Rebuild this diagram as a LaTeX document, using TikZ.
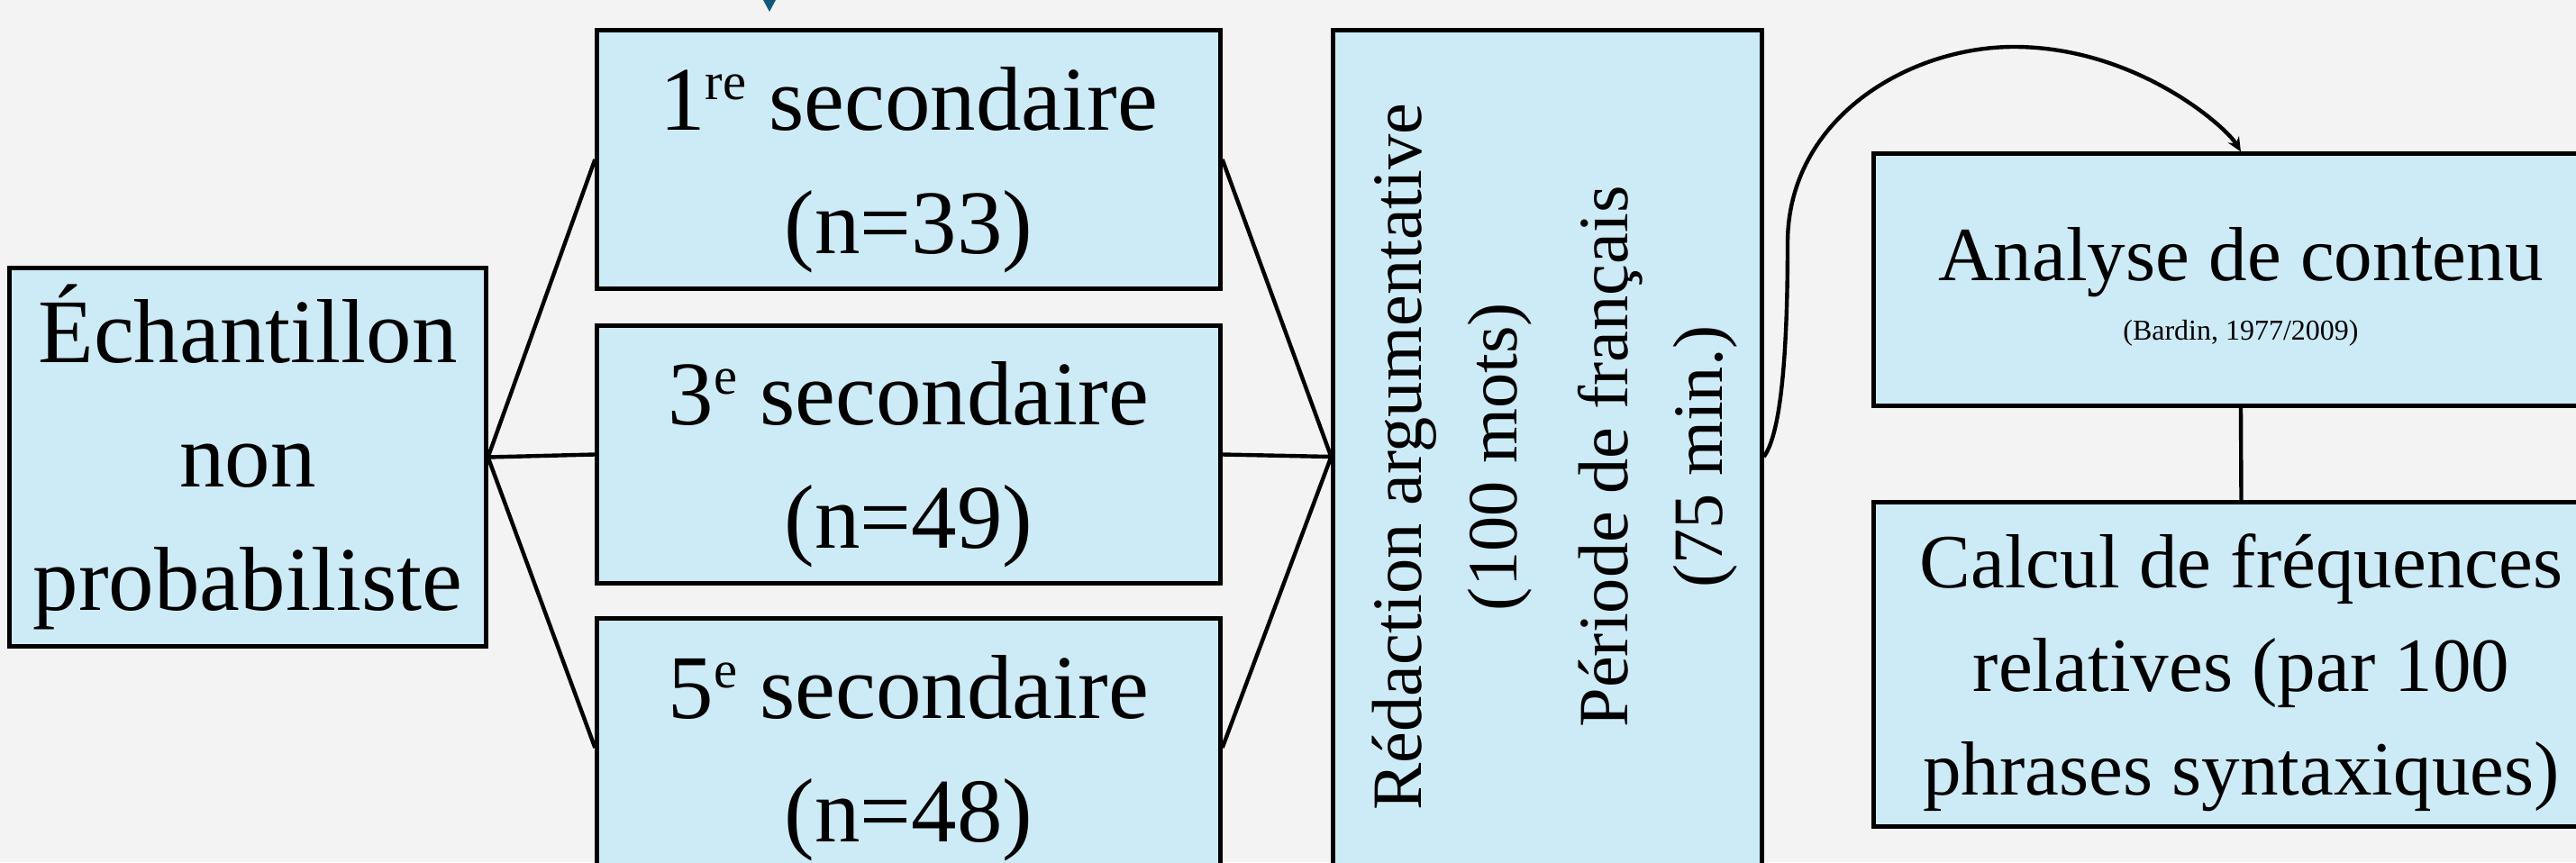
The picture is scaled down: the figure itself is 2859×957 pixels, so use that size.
\documentclass[tikz,border=0pt]{standalone}
\usepackage{fontspec}
\setmainfont{Liberation Serif}
\usetikzlibrary{arrows.meta}
\definecolor{bgc}{RGB}{243,243,243}
\definecolor{boxc}{RGB}{205,235,246}
\definecolor{tipc}{RGB}{14,90,120}
\newcommand\myexp[1]{\raisebox{9.7pt}{\fontsize{16.7}{16.7}\selectfont #1}}
\newcommand\hstrut[1]{\rule{0pt}{#1}}
\begin{document}
\begin{tikzpicture}[x=0.01cm,y=-0.01cm,
  box/.style={draw=black, line width=1.4pt, fill=boxc, inner sep=0pt, align=center},
  big/.style={font=\fontsize{28.7}{39}\selectfont},
  midf/.style={font=\fontsize{22.3}{29.9}\selectfont},
  rgt/.style={font=\fontsize{24.2}{32.6}\selectfont},
  anaf/.style={font=\fontsize{24.2}{19}\selectfont},
  conn/.style={draw=black, line width=1.25pt}]
\useasboundingbox (0,0) rectangle (2859,957);
\clip (0,0) rectangle (2859,957);
\fill[bgc] (0,0) rectangle (2859,957);

\node[box,big,minimum width=5.28cm,minimum height=4.19cm] (ech) at (275,507.5) {Échantillon\\non\\probabiliste};
\node[box,big,minimum width=6.91cm,minimum height=2.86cm] (s1) at (1008.5,177) {\hstrut{26.5pt}1\myexp{re} secondaire\\(n=33)};
\node[box,big,minimum width=6.91cm,minimum height=2.86cm] (s3) at (1008.5,504.5) {\hstrut{26.5pt}3\myexp{e} secondaire\\(n=49)};
\node[box,big,minimum width=6.91cm,minimum height=2.86cm] (s5) at (1008.5,830) {\hstrut{26.5pt}5\myexp{e} secondaire\\(n=48)};

\node[box,minimum width=4.75cm,minimum height=9.46cm] (mid) at (1717.5,507) {};
\node[midf,rotate=90,align=center,inner sep=0pt] (midtxt) at (mid.center) {\hstrut{20.2pt}Rédaction argumentative\\(100 mots)\\[5.1pt]Période de français\\(75 min.)};

\node[box,anaf,minimum width=8.14cm,minimum height=2.79cm] (ana) at (2487,310.5) {\hstrut{21.3pt}Analyse de contenu\\{\fontsize{9.1}{11}\selectfont (Bardin, 1977/2009)}};
\node[box,rgt,minimum width=8.15cm,minimum height=3.59cm] (calc) at (2487.5,737.5) {\hstrut{22.2pt}Calcul de fréquences\\relatives (par 100\\phrases syntaxiques)};

\draw[conn] (ech.east) -- (s1.west);
\draw[conn] (ech.east) -- (s3.west);
\draw[conn] (ech.east) -- (s5.west);
\draw[conn] (s1.east) -- (mid.west);
\draw[conn] (s3.east) -- (mid.west);
\draw[conn] (s5.east) -- (mid.west);
\draw[conn] (ana.south) -- (calc.north);
\draw[conn,-{Stealth[length=4.5pt,width=4pt]}] (mid.east) .. controls (1978,480) and (1984,380) .. (1984,270) .. controls (1984,130) and (2120,52) .. (2235,52) .. controls (2370,52) and (2470,140) .. (ana.north);

\coordinate (tA) at (854,-60);
\coordinate (tB) at (854,13);
\draw[draw=tipc,line width=1pt,-{Stealth[length=5.1pt,width=5.4pt,fill=tipc]}] (tA) -- (tB);
\end{tikzpicture}
\end{document}
